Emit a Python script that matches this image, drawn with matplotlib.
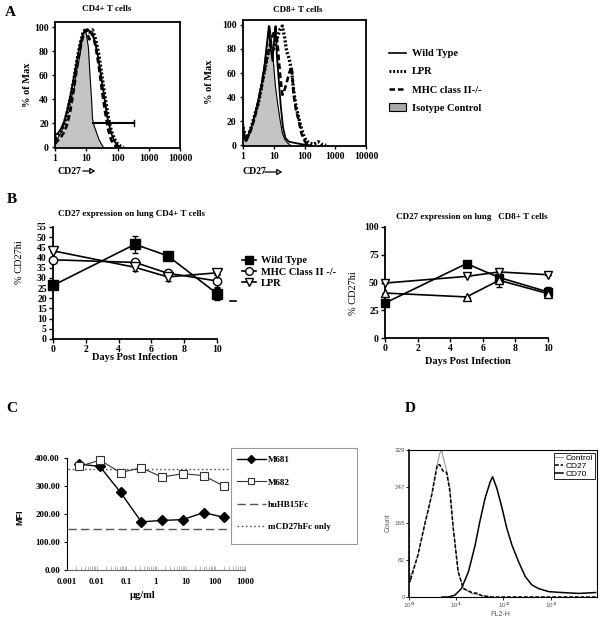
import matplotlib
matplotlib.use("Agg")
import matplotlib.pyplot as plt
import numpy as np
from matplotlib.lines import Line2D
from matplotlib.patches import Patch, Rectangle

W, H = 601, 620

# ---- panel A : CD27 histograms (log10 of CD27, % of max) ----
cd4_iso_log = [0.0, 0.03, 0.1, 0.2, 0.3, 0.4, 0.48, 0.55, 0.61, 0.67, 0.75, 0.82, 0.88, 0.94, 1.0, 1.07, 1.12, 1.17, 1.2, 1.25, 1.32, 1.4, 1.48, 1.55]
cd4_iso = [14, 6, 8, 13, 20, 30, 38, 44, 48, 62, 70, 80, 92, 98, 95, 83, 60, 40, 24, 18, 13, 7, 3, 0]
cd4_wt_log = [0, 0.1, 0.2, 0.3, 0.4, 0.5, 0.6, 0.7, 0.8, 0.9, 1.0, 1.1, 1.2, 1.3, 1.4, 1.5, 1.6, 1.7, 1.8, 1.9, 2.0, 2.1]
cd4_wt = [10, 12, 16, 22, 32, 44, 58, 72, 86, 95, 98, 97, 94, 86, 72, 55, 38, 22, 12, 5, 2, 0]
cd4_lpr_log = [0, 0.1, 0.2, 0.3, 0.4, 0.5, 0.6, 0.7, 0.8, 0.9, 1.0, 1.1, 1.2, 1.3, 1.4, 1.5, 1.6, 1.7, 1.8, 1.9, 2.0, 2.1, 2.2]
cd4_lpr = [8, 10, 14, 20, 30, 42, 56, 72, 86, 96, 99, 96, 98, 90, 78, 60, 42, 26, 14, 7, 3, 1, 0]
cd4_mhc_log = [0, 0.1, 0.2, 0.3, 0.4, 0.5, 0.6, 0.7, 0.8, 0.9, 1.0, 1.1, 1.2, 1.3, 1.4, 1.5, 1.6, 1.7, 1.8, 1.9, 2.0]
cd4_mhc = [3, 6, 9, 13, 20, 32, 48, 66, 82, 93, 98, 90, 95, 84, 68, 48, 30, 15, 6, 2, 0]
cd4_gate_log = [1.23, 2.54]
cd4_gate_y = 20

cd8_iso_log = [0.0, 0.03, 0.1, 0.2, 0.3, 0.4, 0.46, 0.55, 0.62, 0.7, 0.76, 0.82, 0.87, 0.92, 0.98, 1.05, 1.12, 1.2, 1.28, 1.36, 1.45, 1.55]
cd8_iso = [21, 8, 3, 10, 17, 26, 32, 45, 52, 68, 80, 90, 99, 88, 72, 50, 36, 22, 10, 5, 2, 0]
cd8_wt_log = [0, 0.03, 0.1, 0.2, 0.3, 0.4, 0.5, 0.6, 0.7, 0.78, 0.84, 0.9, 0.96, 1.02, 1.06, 1.1, 1.16, 1.22, 1.3, 1.38, 1.5, 1.7, 1.9, 2.2]
cd8_wt = [21, 8, 4, 10, 17, 27, 38, 50, 66, 85, 99, 80, 70, 90, 99, 75, 55, 35, 15, 6, 3, 2, 1, 0]
cd8_lpr_log = [0, 0.1, 0.2, 0.3, 0.4, 0.5, 0.6, 0.7, 0.8, 0.9, 1.0, 1.1, 1.2, 1.28, 1.35, 1.42, 1.5, 1.58, 1.65, 1.72, 1.8, 1.88, 1.96, 2.05, 2.15, 2.3, 2.45, 2.55, 2.7]
cd8_lpr = [15, 5, 10, 18, 27, 35, 48, 62, 75, 82, 80, 88, 96, 99, 90, 78, 72, 62, 45, 33, 24, 16, 9, 4, 2, 1, 3, 1, 0]
cd8_mhc_log = [0, 0.1, 0.2, 0.3, 0.4, 0.5, 0.6, 0.7, 0.8, 0.9, 0.98, 1.05, 1.12, 1.2, 1.28, 1.35, 1.42, 1.5, 1.58, 1.65, 1.72, 1.8, 1.9, 2.0, 2.1]
cd8_mhc = [12, 4, 9, 16, 25, 36, 48, 62, 75, 86, 92, 97, 85, 60, 42, 46, 52, 60, 65, 42, 30, 22, 10, 4, 0]

a_labels = ["Wild Type", "LPR", "MHC class II-/-", "Isotype Control"]

# ---- panel B : % CD27hi over days ----
days = [0, 5, 7, 10]
cd4_wt_pct = [26.3, 46.5, 40.8, 22.3]
cd4_wt_err = [0, 4.3, 0.8, 3.0]
cd4_mhc_pct = [38.9, 37.6, 32.3, 28.5]
cd4_mhc_err = [0, 0.8, 1.5, 3.5]
cd4_lpr_pct = [43.3, 35.2, 30.5, 32.5]
cd4_lpr_err = [0.5, 2.0, 2.0, 1.0]
cd8_wt_pct = [31.5, 67, 54.5, 41.5]
cd8_wt_err = [0, 2, 3, 4]
cd8_dn_pct = [49.5, 55.5, 59.5, 57]
cd8_dn_err = [0, 0, 2, 0]
cd8_up_pct = [40.5, 37, 52, 40]
cd8_up_err = [0, 0, 6, 3]
b_labels = ["Wild Type", "MHC Class II -/-", "LPR"]

# ---- panel C : MFI vs concentration ----
conc = [0.00256, 0.0128, 0.064, 0.32, 1.6, 8, 40, 200]
m681 = [378, 370, 277, 172, 177, 180, 205, 188]
m682 = [370, 392, 348, 365, 332, 344, 337, 299]
hu_ref = 145
mcd27_ref = 360
ref_span = [0.0011, 300]
c_labels = ["M681", "M682", "huHB15Fc", "mCD27hFc only"]

# ---- panel D : FL2-H histograms ----
ctrl_log = [0, 0.19, 0.33, 0.48, 0.58, 0.65, 0.69, 0.745, 0.795, 0.866, 0.937, 1.04, 1.15, 1.33, 1.54, 1.75]
ctrl = [34, 94, 161, 228, 288, 321, 329, 303, 284, 243, 154, 57, 19, 8, 3, 0]
cd27_log = [0, 0.005, 0.02, 0.19, 0.33, 0.48, 0.6, 0.65, 0.72, 0.78, 0.8, 0.866, 0.937, 1.04, 1.15, 1.33, 1.45, 1.54, 1.75, 3.98]
cd27 = [155, 60, 34, 94, 161, 228, 296, 296, 282, 280, 277, 236, 154, 57, 19, 10, 8, 3, 0, 0]
cd70_log = [0.7, 0.83, 0.97, 1.11, 1.26, 1.40, 1.50, 1.61, 1.72, 1.77, 1.86, 1.97, 2.07, 2.18, 2.32, 2.46, 2.60, 2.74, 2.96, 3.24, 3.60, 3.95]
cd70 = [0, 0, 4, 19, 57, 116, 169, 221, 258, 269, 243, 199, 154, 116, 79, 46, 27, 19, 12, 10, 8, 10]
d_labels = ["Control", "CD27", "CD70"]

SERIF = "Liberation Serif"
SANS = "Liberation Sans"
plt.rcParams["font.family"] = [SERIF, "DejaVu Sans"]
plt.rcParams["font.weight"] = "bold"

fig = plt.figure(figsize=(W/100, H/100), dpi=100)


def rect(x0, y0, x1, y1):
	return [x0/W, 1-y1/H, (x1-x0)/W, (y1-y0)/H]


def ftext(x, y, s, **kw):
	kw.setdefault("ha", "center")
	kw.setdefault("va", "center")
	fig.text(x/W, 1-y/H, s, **kw)


def fline(x0, y0, x1, y1, **kw):
	fig.add_artist(Line2D([x0/W, x1/W], [1-y0/H, 1-y1/H], transform=fig.transFigure, **kw))


def hist_axes(r, ytop):
	ax = fig.add_axes(r)
	ax.set_xscale("log")
	ax.set_xlim(1, 10000)
	ax.set_ylim(-0.5, ytop)
	ax.set_xticks([1, 10, 100, 1000, 10000], ["1", "10", "100", "1000", "10000"])
	ax.set_yticks([0, 20, 40, 60, 80, 100])
	ax.minorticks_off()
	ax.tick_params(labelsize=7, length=2.5, width=1, direction="out", pad=2)
	for s in ax.spines.values():
		s.set_linewidth(1.3)
	return ax


def draw_hist(ax, iso_l, iso, wt_l, wt, lpr_l, lpr, mhc_l, mhc):
	ax.fill_between(10**np.array(iso_l), iso, color="#c4c4c4", lw=0)
	ax.plot(10**np.array(iso_l), iso, color="black", lw=0.8)
	ax.plot(10**np.array(wt_l), wt, color="black", lw=1.3)
	ax.plot(10**np.array(lpr_l), lpr, color="black", lw=2.4, ls=(0, (0.6, 0.6)))
	ax.plot(10**np.array(mhc_l), mhc, color="black", lw=1.9, ls=(0, (2.2, 1.2)))


# A left
axA1 = hist_axes(rect(55, 22, 180, 148), 104.5)
draw_hist(axA1, cd4_iso_log, cd4_iso, cd4_wt_log, cd4_wt, cd4_lpr_log, cd4_lpr, cd4_mhc_log, cd4_mhc)
axA1.plot(10**np.array(cd4_gate_log), [cd4_gate_y]*2, color="black", lw=1.5)
axA1.plot([10**cd4_gate_log[1]]*2, [cd4_gate_y-2.5, cd4_gate_y+2.5], color="black", lw=1)

# A right
axA2 = hist_axes(rect(243, 20, 366, 146), 104)
draw_hist(axA2, cd8_iso_log, cd8_iso, cd8_wt_log, cd8_wt, cd8_lpr_log, cd8_lpr, cd8_mhc_log, cd8_mhc)

ftext(10, 12, "A", fontsize=11)
ftext(107, 9, "CD4+ T cells", fontsize=6.5)
ftext(298, 10, "CD8+ T cells", fontsize=6.5)
ftext(28, 85, "% of Max", fontsize=7.5, rotation=90)
ftext(209, 82, "% of Max", fontsize=7.5, rotation=90)
ftext(58, 171, "CD27", fontsize=7, ha="left")
ftext(243, 172, "CD27", fontsize=7, ha="left")
for x0, x1, y in [(80, 98, 171), (262, 285, 172)]:
	fig.add_artist(matplotlib.patches.FancyArrowPatch((x0/W, 1-y/H), (x1/W, 1-y/H), transform=fig.transFigure,
		arrowstyle="-|>,head_length=3,head_width=1.8", mutation_scale=1, fc="white", ec="black", lw=0.9))

a_handles = [Line2D([], [], color="black", lw=1.2),
	Line2D([], [], color="black", lw=2.2, ls=(0, (0.6, 0.6))),
	Line2D([], [], color="black", lw=1.8, ls=(0, (2.2, 1.2))),
	Patch(facecolor="#a8a8a8", edgecolor="black", lw=0.8)]
fig.legend(a_handles, a_labels, loc="upper left", bbox_to_anchor=(389/W, 1-49/H), frameon=False,
	fontsize=7.5, handlelength=1.6, handletextpad=0.6, labelspacing=0.85, borderpad=0, borderaxespad=0)

# ---- B ----
def line_axes(r, ymax, step):
	ax = fig.add_axes(r)
	ax.set_xlim(0, 10)
	ax.set_ylim(0, ymax)
	ax.set_xticks(range(0, 11, 2))
	ax.set_yticks(range(0, ymax+1, step))
	ax.spines["top"].set_visible(False)
	ax.spines["right"].set_visible(False)
	for s in ("left", "bottom"):
		ax.spines[s].set_linewidth(1.3)
	ax.tick_params(labelsize=7, length=3, width=1, direction="out", pad=1.5)
	return ax


def series(ax, y, err, marker, fc, ms):
	ax.errorbar(days, y, yerr=err, color="black", lw=1.2, elinewidth=1, capsize=2,
		marker=marker, mfc=fc, mec="black", mew=1, ms=ms, clip_on=False, zorder=3)


axB1 = line_axes(rect(53, 227, 217, 339), 55, 5)
series(axB1, cd4_wt_pct, cd4_wt_err, "s", "black", 6.5)
series(axB1, cd4_mhc_pct, cd4_mhc_err, "o", "white", 6)
series(axB1, cd4_lpr_pct, cd4_lpr_err, "v", "white", 6.5)

axB2 = line_axes(rect(385, 227, 548, 338), 100, 25)
series(axB2, cd8_wt_pct, cd8_wt_err, "s", "black", 6)
series(axB2, cd8_dn_pct, cd8_dn_err, "v", "white", 6)
series(axB2, cd8_up_pct, cd8_up_err, "^", "white", 6)

ftext(12, 200, "B", fontsize=11)
ftext(132, 214, "CD27 expression on lung CD4+ T cells", fontsize=6.5)
ftext(472, 217, "CD27 expression on lung   CD8+ T cells", fontsize=6.5)
ftext(20, 262, "% CD27hi", fontsize=7.5, rotation=90, fontweight="normal")
ftext(353, 293, "% CD27hi", fontsize=7.5, rotation=90, fontweight="normal")
ftext(135, 358, "Days Post Infection", fontsize=7.5)
ftext(468, 361, "Days Post Infection", fontsize=7.5)

b_handles = [Line2D([], [], color="black", lw=1.2, marker="s", mfc="black", mec="black", ms=5.5),
	Line2D([], [], color="black", lw=1.2, marker="o", mfc="white", mec="black", ms=5.5),
	Line2D([], [], color="black", lw=1.2, marker="v", mfc="white", mec="black", ms=6)]
fig.legend(b_handles, b_labels, loc="upper left", bbox_to_anchor=(242/W, 1-256/H), frameon=False,
	fontsize=7.5, handlelength=1.3, handletextpad=0.5, labelspacing=0.2, borderpad=0, borderaxespad=0)
fline(230, 301, 236, 301, color="black", lw=1.2)

# ---- C ----
axC = fig.add_axes(rect(67, 458, 245, 570))
axC.set_xscale("log")
axC.set_xlim(0.001, 1000)
axC.set_ylim(0, 400)
axC.set_xticks([0.001, 0.01, 0.1, 1, 10, 100, 1000], ["0.001", "0.01", "0.1", "1", "10", "100", "1000"])
axC.set_yticks([0, 100, 200, 300, 400], ["0.00", "100.00", "200.00", "300.00", "400.00"])
axC.spines["top"].set_visible(False)
axC.spines["right"].set_visible(False)
axC.spines["left"].set_linewidth(0.8)
axC.spines["bottom"].set_linewidth(0.8)
axC.spines["bottom"].set_color("#666666")
axC.tick_params(axis="y", which="major", labelsize=6.5, length=2, width=0.8, pad=3)
axC.tick_params(axis="x", which="major", labelsize=6.5, direction="in", length=3, width=0.6, color="#b0b0b0", pad=6)
axC.tick_params(axis="x", which="minor", direction="in", length=3, width=0.6, color="#b0b0b0")
axC.hlines(hu_ref, ref_span[0], ref_span[1], color="#555555", lw=1, ls=(0, (6, 3)))
axC.hlines(mcd27_ref, ref_span[0], ref_span[1], color="#555555", lw=1, ls=(0, (1.2, 1.8)))
axC.plot(conc, m681, color="black", lw=1, marker="D", ms=4.8, mfc="black", mec="black", clip_on=False)
axC.plot(conc, m682, color="#333333", lw=0.8, marker="s", ms=5.3, mfc="white", mec="#333333", mew=0.8, clip_on=False)

ftext(12, 408, "C", fontsize=11)
ftext(20, 517, "MFI", fontsize=6.5, rotation=90, family=SANS)
ftext(143, 596, "µg/ml", fontsize=7.5)
fig.add_artist(Rectangle((231/W, 1-544/H), 126/W, 96/H, transform=fig.transFigure, fill=False, ec="#999999", lw=0.8))
c_handles = [Line2D([], [], color="black", lw=1, marker="D", ms=4.5, mfc="black"),
	Line2D([], [], color="#333333", lw=0.8, marker="s", ms=5, mfc="white", mec="#333333", mew=0.8),
	Line2D([], [], color="#555555", lw=1, ls=(0, (6, 3))),
	Line2D([], [], color="#555555", lw=1, ls=(0, (1.2, 1.8)))]
fig.legend(c_handles, c_labels, loc="upper left", bbox_to_anchor=(237/W, 1-456/H), frameon=False,
	fontsize=6.5, handlelength=3.2, handletextpad=0.2, labelspacing=1.55, borderpad=0, borderaxespad=0)

# ---- D ----
axD = fig.add_axes(rect(409, 450, 597, 597))
axD.set_xscale("log")
axD.set_xlim(1, 10**3.98)
axD.set_ylim(0, 329)
axD.set_xticks([1, 10, 100, 1000], ["10$^0$", "10$^1$", "10$^2$", "10$^3$"])
axD.set_yticks([0, 82, 165, 247, 329])
axD.minorticks_off()
axD.tick_params(labelsize=4.5, length=2, width=0.6, pad=1, labelcolor="#555555")
for lbl in axD.get_xticklabels() + axD.get_yticklabels():
	lbl.set_family(SANS)
	lbl.set_fontweight("normal")
for s in axD.spines.values():
	s.set_linewidth(0.8)
axD.spines["left"].set_linewidth(1.2)
axD.plot(10**np.array(ctrl_log), ctrl, color="#999999", lw=0.8, label=d_labels[0])
axD.plot(10**np.array(cd27_log), cd27, color="black", lw=1.1, ls=(0, (2.5, 1.2)), label=d_labels[1])
axD.plot(10**np.array(cd70_log), cd70, color="black", lw=1.1, label=d_labels[2])
leg = axD.legend(loc="upper right", prop={"family": SANS, "size": 6, "weight": "normal"}, fancybox=False,
	edgecolor="black", framealpha=1, handlelength=1, handletextpad=0.3, labelspacing=0.05,
	borderpad=0.15, borderaxespad=0.3)
leg.get_frame().set_linewidth(0.6)

ftext(410, 408, "D", fontsize=11)
ftext(388, 523, "Count", fontsize=5, rotation=90, family=SANS, fontweight="normal", color="#555555")
ftext(500, 614, "FL2-H", fontsize=5, family=SANS, fontweight="normal", color="#555555")

plt.savefig("out.png", dpi=100)
plt.close(fig)
